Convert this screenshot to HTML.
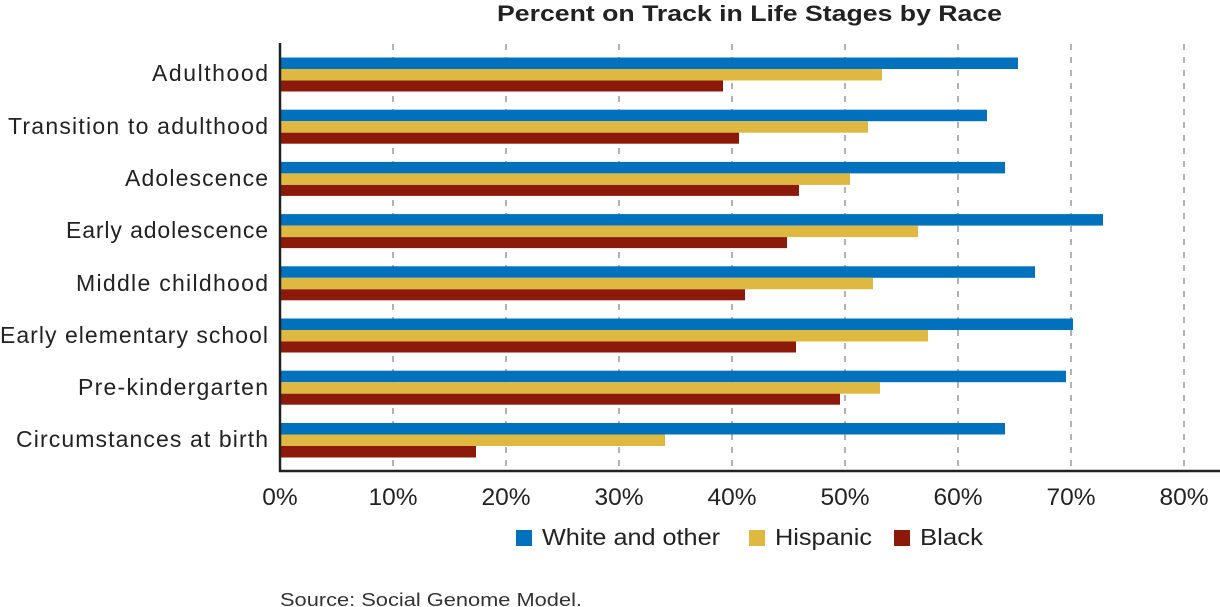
<!DOCTYPE html>
<html><head><meta charset="utf-8"><style>
body{margin:0;background:#fff;}
svg{display:block;font-family:"Liberation Sans",sans-serif;}
</style></head><body>
<svg width="1220" height="607" xmlns="http://www.w3.org/2000/svg">
<text x="497" y="21" font-size="22" font-weight="bold" fill="#222" textLength="505" lengthAdjust="spacingAndGlyphs">Percent on Track in Life Stages by Race</text>
<g stroke="#888" stroke-width="1.3" stroke-dasharray="6,7">
<line x1="393" y1="44" x2="393" y2="470"/><line x1="506" y1="44" x2="506" y2="470"/>
<line x1="619" y1="44" x2="619" y2="470"/><line x1="732" y1="44" x2="732" y2="470"/>
<line x1="845" y1="44" x2="845" y2="470"/><line x1="958" y1="44" x2="958" y2="470"/>
<line x1="1071" y1="44" x2="1071" y2="470"/><line x1="1184" y1="44" x2="1184" y2="470"/>
</g>
<g>
<rect x="280" y="57.5" width="738" height="11.5" fill="#0071bc"/><rect x="280" y="69" width="602" height="11.5" fill="#deb840"/><rect x="280" y="80.5" width="443" height="11" fill="#8b1a0a"/>
<rect x="280" y="109.7" width="707" height="11.5" fill="#0071bc"/><rect x="280" y="121.2" width="588" height="11.5" fill="#deb840"/><rect x="280" y="132.7" width="459" height="11" fill="#8b1a0a"/>
<rect x="280" y="161.9" width="725" height="11.5" fill="#0071bc"/><rect x="280" y="173.4" width="570" height="11.5" fill="#deb840"/><rect x="280" y="184.9" width="519" height="11" fill="#8b1a0a"/>
<rect x="280" y="214.1" width="823" height="11.5" fill="#0071bc"/><rect x="280" y="225.6" width="638" height="11.5" fill="#deb840"/><rect x="280" y="237.1" width="507" height="11" fill="#8b1a0a"/>
<rect x="280" y="266.3" width="755" height="11.5" fill="#0071bc"/><rect x="280" y="277.8" width="593" height="11.5" fill="#deb840"/><rect x="280" y="289.3" width="465" height="11" fill="#8b1a0a"/>
<rect x="280" y="318.5" width="793" height="11.5" fill="#0071bc"/><rect x="280" y="330" width="648" height="11.5" fill="#deb840"/><rect x="280" y="341.5" width="516" height="11" fill="#8b1a0a"/>
<rect x="280" y="370.7" width="786" height="11.5" fill="#0071bc"/><rect x="280" y="382.2" width="600" height="11.5" fill="#deb840"/><rect x="280" y="393.7" width="560" height="11" fill="#8b1a0a"/>
<rect x="280" y="423" width="725" height="11.5" fill="#0071bc"/><rect x="280" y="434.5" width="385" height="11.5" fill="#deb840"/><rect x="280" y="446" width="196" height="11.5" fill="#8b1a0a"/>
</g>
<line x1="280" y1="43" x2="280" y2="472" stroke="#222" stroke-width="2.5"/>
<line x1="279" y1="471" x2="1220" y2="471" stroke="#222" stroke-width="2.5"/>
<g font-size="23" fill="#222" lengthAdjust="spacingAndGlyphs">
<text x="152" y="81" textLength="116">Adulthood</text>
<text x="8" y="134" textLength="260">Transition to adulthood</text>
<text x="125" y="186" textLength="143">Adolescence</text>
<text x="66" y="238" textLength="202">Early adolescence</text>
<text x="76" y="291" textLength="192">Middle childhood</text>
<text x="0" y="343" textLength="268">Early elementary school</text>
<text x="78" y="395" textLength="190">Pre-kindergarten</text>
<text x="16" y="447" textLength="252">Circumstances at birth</text>
</g>
<g font-size="24.5" fill="#222" text-anchor="middle">
<text x="280" y="505">0%</text><text x="393" y="505">10%</text><text x="506" y="505">20%</text><text x="619" y="505">30%</text>
<text x="732" y="505">40%</text><text x="845" y="505">50%</text><text x="958" y="505">60%</text><text x="1071" y="505">70%</text><text x="1184" y="505">80%</text>
</g>
<g font-size="23" fill="#222">
<rect x="516" y="530" width="16" height="16" fill="#0071bc"/><text x="542" y="545" textLength="178" lengthAdjust="spacingAndGlyphs">White and other</text>
<rect x="749" y="530" width="16" height="16" fill="#deb840"/><text x="775" y="545" textLength="97" lengthAdjust="spacingAndGlyphs">Hispanic</text>
<rect x="894" y="530" width="16" height="16" fill="#8b1a0a"/><text x="920" y="545" textLength="63" lengthAdjust="spacingAndGlyphs">Black</text>
</g>
<text x="280" y="606" font-size="18" fill="#333" textLength="302" lengthAdjust="spacingAndGlyphs">Source: Social Genome Model.</text>
</svg>
</body></html>
